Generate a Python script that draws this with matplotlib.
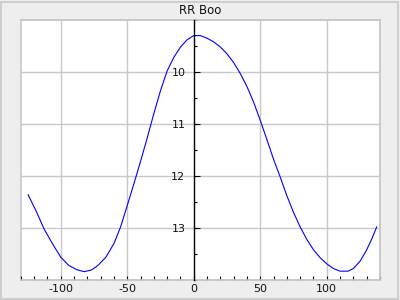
import matplotlib
matplotlib.use("Agg")
import matplotlib.pyplot as plt
import matplotlib.ticker as mticker
from matplotlib.patches import Rectangle

plt.rcParams["axes.unicode_minus"] = False

# Light curve of RR Boo (phase in days vs magnitude)
phase = [-124.5, -118, -112.5, -106, -100, -94, -88, -82.5, -77, -72,
         -66, -60, -55, -50, -45, -40, -35, -30, -25, -20,
         -15, -10, -5, 0, 5, 10, 15, 20, 25, 30,
         35, 40, 45, 50, 55, 60, 65, 70, 75, 80,
         85, 90, 95, 100, 105, 110, 116, 120, 125, 130,
         134, 137.5]
mag = [12.36, 12.70, 13.02, 13.31, 13.56, 13.72, 13.80, 13.84, 13.81, 13.72,
       13.56, 13.30, 12.98, 12.57, 12.15, 11.72, 11.27, 10.80, 10.36, 9.98,
       9.72, 9.52, 9.38, 9.30, 9.30, 9.35, 9.42, 9.52, 9.65, 9.82,
       10.03, 10.28, 10.58, 10.93, 11.30, 11.68, 12.02, 12.38, 12.70, 12.98,
       13.22, 13.42, 13.57, 13.69, 13.78, 13.83, 13.83, 13.78, 13.64, 13.42,
       13.20, 12.98]

x_ticks = [-100, -50, 0, 50, 100]
y_ticks = [10, 11, 12, 13]

BG = "#eeeeee"
GRID = "#c8c8c8"

fig = plt.figure(figsize=(4, 3), dpi=100, facecolor=BG)
fig.patches.append(Rectangle((0.002, 0.003), 0.994, 0.992, transform=fig.transFigure,
                             fill=False, edgecolor=GRID, lw=1.2))
ax = fig.add_axes([0.052, 0.0667, 0.898, 0.8666])
ax.set_facecolor("white")

ax.plot(phase, mag, color="blue", lw=0.8, zorder=3)

ax.set_xlim(-130, 140)
ax.set_ylim(14, 9)

for v in x_ticks:
    if v != 0:
        ax.axvline(v, color=GRID, lw=1.0, zorder=1)
for v in y_ticks:
    ax.axhline(v, color=GRID, lw=1.0, zorder=1)

for s in ["top", "right", "bottom"]:
    ax.spines[s].set_color(GRID)
    ax.spines[s].set_linewidth(1.2)
ax.spines["left"].set_position(("data", 0))
ax.spines["left"].set_color("black")
ax.spines["left"].set_linewidth(1.0)
ax.spines["left"].set_zorder(4)
ax.add_patch(Rectangle((0, 0), 1, 1, transform=ax.transAxes, fill=False,
                       edgecolor=GRID, lw=1.2, clip_on=False, zorder=0))

ax.set_xticks(x_ticks)
ax.xaxis.set_minor_locator(mticker.MultipleLocator(10))
ax.set_yticks(y_ticks)
ax.yaxis.set_minor_locator(mticker.MultipleLocator(0.5))

ax.tick_params(axis="x", which="both", direction="in", length=3, width=0.8,
               color="black", labelsize=8, pad=3, labelcolor="#111111")
ax.tick_params(axis="y", which="major", direction="in", length=4, width=0.8,
               color="black", labelsize=8, pad=6, labelcolor="#111111")
ax.tick_params(axis="y", which="minor", direction="in", length=2.5, width=0.8,
               color="black")

ax.set_title("RR Boo", fontsize=8.5, pad=4, color="#111111")

fig.savefig("out.png", dpi=100, facecolor=BG)
